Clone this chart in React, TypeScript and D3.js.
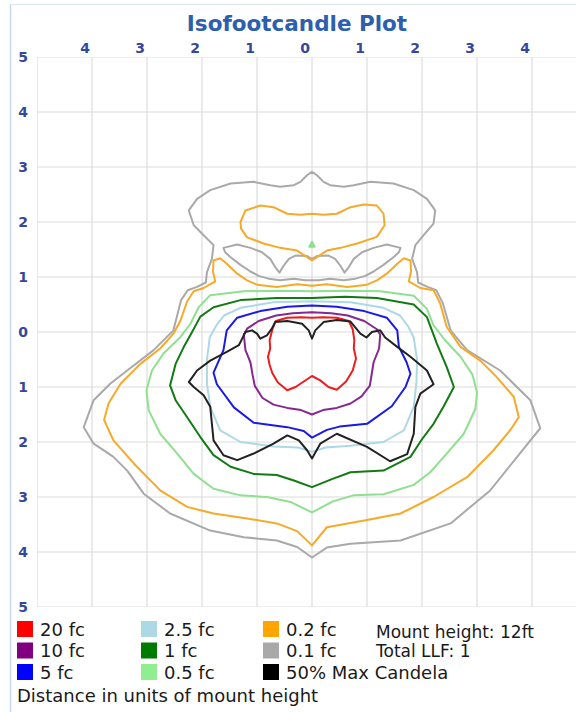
import React from "react";
import * as d3 from "d3";

type Pt = [number, number];

// axes, in units of mount height
const xTicks = [-4, -3, -2, -1, 0, 1, 2, 3, 4];
const yTicks = [5, 4, 3, 2, 1, 0, -1, -2, -3, -4, -5];
const gridValues = [-5, -4, -3, -2, -1, 0, 1, 2, 3, 4, 5];

// isofootcandle contours, [x, y] (y up = positive)
const fc20: Pt[] = [[0,0.26],[0.2,0.27],[0.45,0.26],[0.67,0.2],[0.74,0.05],[0.77,-0.15],[0.76,-0.3],[0.8,-0.48],[0.74,-0.7],[0.62,-0.9],[0.45,-1.05],[0.3,-1.0],[0.15,-0.88],[0,-0.8],[-0.15,-0.9],[-0.3,-1.0],[-0.45,-1.06],[-0.62,-0.92],[-0.72,-0.75],[-0.77,-0.6],[-0.8,-0.45],[-0.76,-0.3],[-0.77,-0.15],[-0.72,0.05],[-0.66,0.2],[-0.45,0.26],[-0.2,0.27]];
const fc10: Pt[] = [[0,0.36],[0.35,0.34],[0.65,0.3],[0.95,0.2],[1.18,0.05],[1.24,-0.05],[1.22,-0.3],[1.12,-0.55],[1.08,-0.8],[1.05,-0.98],[0.9,-1.17],[0.7,-1.3],[0.45,-1.38],[0.2,-1.42],[0,-1.5],[-0.2,-1.42],[-0.45,-1.38],[-0.7,-1.32],[-0.9,-1.2],[-1.04,-0.98],[-1.08,-0.78],[-1.12,-0.55],[-1.21,-0.33],[-1.24,-0.05],[-1.18,0.06],[-0.97,0.2],[-0.65,0.3],[-0.35,0.34]];
const fc5: Pt[] = [[0,0.48],[0.45,0.46],[0.95,0.38],[1.36,0.26],[1.55,0.03],[1.58,-0.27],[1.72,-0.55],[1.79,-0.76],[1.7,-1.0],[1.45,-1.35],[1.0,-1.67],[0.5,-1.72],[0.27,-1.78],[0,-1.92],[-0.15,-1.8],[-0.45,-1.73],[-1.06,-1.65],[-1.42,-1.37],[-1.73,-0.95],[-1.79,-0.74],[-1.61,-0.33],[-1.55,0.03],[-1.36,0.26],[-0.94,0.38],[-0.45,0.46]];
const fc2_5: Pt[] = [[0,0.56],[0.7,0.54],[1.3,0.44],[1.6,0.3],[1.75,0.1],[1.85,-0.1],[1.91,-0.5],[1.9,-0.9],[1.85,-1.36],[1.67,-1.79],[1.3,-2.0],[0.7,-2.07],[0.25,-2.1],[0,-2.18],[-0.25,-2.1],[-0.7,-2.08],[-1.3,-2.0],[-1.67,-1.79],[-1.85,-1.36],[-1.91,-0.94],[-1.91,-0.5],[-1.86,-0.1],[-1.74,0.12],[-1.6,0.3],[-1.3,0.44],[-0.7,0.54]];
const fc1: Pt[] = [[0,0.62],[0.6,0.64],[1.18,0.62],[1.85,0.5],[2.09,0.27],[2.27,-0.21],[2.45,-0.64],[2.58,-1.0],[2.39,-1.36],[2.21,-1.67],[2.0,-1.95],[1.79,-2.27],[1.3,-2.52],[0.7,-2.55],[0.35,-2.68],[0,-2.82],[-0.33,-2.7],[-0.64,-2.6],[-1.06,-2.58],[-1.48,-2.45],[-1.79,-2.24],[-2.03,-1.91],[-2.27,-1.55],[-2.48,-1.24],[-2.58,-0.97],[-2.48,-0.58],[-2.33,-0.27],[-2.18,0.0],[-2.03,0.28],[-1.79,0.45],[-1.3,0.58],[-0.64,0.62]];
const fc0_5: Pt[] = [[0,0.74],[0.6,0.75],[1.24,0.74],[1.85,0.66],[2.09,0.42],[2.21,0.12],[2.42,-0.15],[2.7,-0.45],[2.92,-0.78],[3.0,-1.1],[2.97,-1.4],[2.76,-1.85],[2.45,-2.21],[2.15,-2.55],[1.85,-2.78],[1.3,-2.95],[0.75,-2.97],[0.38,-3.08],[0,-3.28],[-0.39,-3.09],[-0.82,-3.0],[-1.3,-2.97],[-1.79,-2.85],[-2.15,-2.58],[-2.45,-2.21],[-2.76,-1.85],[-2.97,-1.42],[-3.01,-1.06],[-2.91,-0.7],[-2.7,-0.39],[-2.39,-0.09],[-2.21,0.15],[-2.06,0.45],[-1.85,0.67],[-1.24,0.74],[-0.6,0.75]];
const fc0_2: Pt[] = [[0,0.84],[0.27,0.87],[0.64,0.82],[1.0,0.86],[1.18,0.94],[1.36,1.06],[1.55,1.24],[1.67,1.34],[1.79,1.3],[1.8,1.1],[1.76,0.92],[1.97,0.8],[2.21,0.76],[2.33,0.52],[2.45,0.09],[2.7,-0.27],[3.06,-0.52],[3.36,-0.82],[3.67,-1.18],[3.76,-1.55],[3.6,-1.79],[3.3,-2.15],[2.82,-2.64],[2.21,-3.0],[1.61,-3.3],[1.0,-3.42],[0.27,-3.55],[0,-3.88],[-0.27,-3.62],[-0.64,-3.48],[-1.18,-3.39],[-1.79,-3.3],[-2.27,-3.18],[-2.76,-2.88],[-3.24,-2.39],[-3.61,-1.97],[-3.78,-1.6],[-3.7,-1.3],[-3.48,-0.94],[-3.12,-0.58],[-2.76,-0.3],[-2.52,-0.03],[-2.39,0.21],[-2.27,0.56],[-2.15,0.74],[-1.97,0.8],[-1.76,0.92],[-1.8,1.1],[-1.79,1.3],[-1.67,1.34],[-1.55,1.24],[-1.36,1.06],[-1.18,0.94],[-1.0,0.86],[-0.64,0.82],[-0.27,0.87]];
const fc0_2Upper: Pt[] = [[0,2.15],[0.21,2.13],[0.45,2.15],[0.7,2.27],[0.94,2.32],[1.18,2.3],[1.3,2.15],[1.32,1.94],[1.18,1.73],[0.82,1.61],[0.52,1.53],[0.27,1.48],[0.09,1.36],[0,1.3],[-0.09,1.36],[-0.27,1.48],[-0.58,1.53],[-0.88,1.61],[-1.18,1.72],[-1.29,1.88],[-1.3,2.0],[-1.21,2.21],[-0.94,2.3],[-0.7,2.27],[-0.45,2.15],[-0.21,2.13]];
const fc0_1: Pt[] = [[0,2.91],[0.09,2.85],[0.21,2.73],[0.33,2.67],[0.58,2.64],[0.76,2.67],[1.06,2.73],[1.48,2.7],[1.85,2.58],[2.09,2.42],[2.24,2.21],[2.21,1.97],[2.03,1.76],[1.88,1.58],[1.82,1.33],[1.91,1.09],[1.93,0.9],[2.1,0.82],[2.26,0.76],[2.38,0.52],[2.52,0.03],[2.82,-0.33],[3.42,-0.7],[3.97,-1.24],[4.15,-1.75],[3.73,-2.27],[3.24,-2.88],[2.52,-3.48],[1.61,-3.79],[0.7,-3.85],[0.27,-3.92],[0,-4.1],[-0.27,-3.91],[-0.64,-3.79],[-1.24,-3.73],[-1.85,-3.61],[-2.58,-3.3],[-3.06,-2.94],[-3.36,-2.52],[-3.61,-2.27],[-3.97,-2.03],[-4.15,-1.73],[-3.97,-1.24],[-3.67,-0.94],[-3.36,-0.7],[-2.88,-0.33],[-2.52,0.03],[-2.38,0.58],[-2.26,0.76],[-2.09,0.82],[-1.93,0.9],[-1.91,1.09],[-1.82,1.33],[-1.79,1.58],[-1.97,1.76],[-2.15,1.94],[-2.24,2.21],[-2.09,2.42],[-1.85,2.58],[-1.48,2.7],[-1.06,2.73],[-0.76,2.67],[-0.58,2.64],[-0.33,2.67],[-0.21,2.73],[-0.09,2.85]];
const fc0_1Hole: Pt[] = [[-1.61,1.53],[-1.36,1.59],[-1.12,1.53],[-0.91,1.45],[-0.76,1.33],[-0.67,1.18],[-0.59,1.08],[-0.52,1.2],[-0.42,1.33],[-0.3,1.39],[-0.09,1.38],[0,1.33],[0.09,1.38],[0.3,1.39],[0.42,1.33],[0.52,1.2],[0.59,1.08],[0.67,1.18],[0.76,1.33],[0.91,1.45],[1.12,1.53],[1.36,1.59],[1.61,1.53],[1.58,1.45],[1.48,1.36],[1.3,1.22],[1.12,1.1],[0.97,1.02],[0.79,0.97],[0.58,0.94],[0.33,0.97],[0.12,0.94],[0,0.94],[-0.12,0.94],[-0.33,0.97],[-0.58,0.94],[-0.79,0.97],[-0.97,1.02],[-1.12,1.1],[-1.3,1.22],[-1.48,1.36],[-1.58,1.45]];
const fc0_5Spot: Pt[] = [[-0.05,1.55],[0,1.64],[0.05,1.55]];
const maxCandela50: Pt[] = [[0,-0.12],[0.06,0.03],[0.21,0.18],[0.45,0.22],[0.7,0.19],[0.79,0.08],[0.88,-0.03],[0.99,-0.1],[1.09,0.0],[1.24,0.03],[1.33,-0.1],[1.55,-0.27],[1.79,-0.45],[2.09,-0.7],[2.21,-0.95],[1.97,-1.12],[1.88,-1.36],[1.85,-1.85],[1.73,-2.22],[1.42,-2.35],[1.0,-2.09],[0.45,-1.85],[0.15,-2.03],[0,-2.3],[-0.09,-2.15],[-0.24,-1.97],[-0.45,-1.88],[-0.7,-2.03],[-1.06,-2.21],[-1.36,-2.33],[-1.61,-2.24],[-1.79,-1.97],[-1.82,-1.67],[-1.85,-1.36],[-1.97,-1.15],[-2.15,-1.0],[-2.24,-0.91],[-2.09,-0.7],[-1.85,-0.52],[-1.55,-0.36],[-1.33,-0.24],[-1.27,-0.12],[-1.21,0.0],[-1.09,0.03],[-1.0,-0.03],[-0.94,-0.12],[-0.82,-0.06],[-0.73,0.06],[-0.67,0.18],[-0.45,0.2],[-0.18,0.15],[-0.06,0.03]];

// legend
const legendLabels = ["20 fc", "10 fc", "5 fc", "2.5 fc", "1 fc", "0.5 fc", "0.2 fc", "0.1 fc", "50% Max Candela"];
const legendColors = ["#ff0000", "#800080", "#0000ff", "#add8e6", "#007a00", "#90ee90", "#ffa500", "#a9a9a9", "#000000"];
const infoLines = ["Mount height: 12ft", "Total LLF: 1"];

// drawing order, back to front
const contours: { color: string; rings: Pt[][]; fill?: boolean }[] = [
  { color: "#a9a9a9", rings: [fc0_1, fc0_1Hole] },
  { color: "#f7a928", rings: [fc0_2, fc0_2Upper] },
  { color: "#8fe08f", rings: [fc0_5] },
  { color: "#8fe08f", rings: [fc0_5Spot], fill: true },
  { color: "#127a12", rings: [fc1] },
  { color: "#add8e6", rings: [fc2_5] },
  { color: "#1a1ae6", rings: [fc5] },
  { color: "#86288f", rings: [fc10] },
  { color: "#ee1c1c", rings: [fc20] },
  { color: "#222222", rings: [maxCandela50] },
];

const W = 576;
const H = 712;
const FONT = "'DejaVu Sans', Verdana, sans-serif";
const labelColor = "#34479b";

export default function App() {
  const x = d3.scaleLinear().domain([-5, 5]).range([37, 587]);
  const y = d3.scaleLinear().domain([5, -5]).range([57, 607]);
  const line = d3
    .line<Pt>()
    .x((d) => x(d[0]))
    .y((d) => y(d[1]))
    .curve(d3.curveLinearClosed);

  const legendX = [17, 141, 263];
  const legendY = [629, 650.5, 672];

  return (
    <svg
      width={W}
      height={H}
      style={{ position: "absolute", left: 0, top: 0, background: "#fff" }}
      fontFamily={FONT}
    >
      <defs>
        <clipPath id="plot">
          <rect x={x(-5)} y={y(5)} width={W - x(-5)} height={y(-5) - y(5)} />
        </clipPath>
      </defs>
      <rect x={0} y={0} width={W} height={H} fill="#fff" />
      <line x1={10.5} x2={10.5} y1={4} y2={H} stroke="#c9d8ee" strokeWidth={1.5} />
      <line x1={10} x2={W} y1={4.5} y2={4.5} stroke="#dde7f3" strokeWidth={1} />

      <text x={297} y={31} textAnchor="middle" fontSize={21.5} fontWeight="bold" fill="#2c5fad">
        Isofootcandle Plot
      </text>

      <g clipPath="url(#plot)">
        {gridValues.map((v) => (
          <line key={"v" + v} x1={x(v)} x2={x(v)} y1={y(5)} y2={y(-5)} stroke="#dcdcdc" strokeWidth={1.2} />
        ))}
        {gridValues.map((v) => (
          <line key={"h" + v} x1={x(-5)} x2={W} y1={y(v)} y2={y(v)} stroke="#dcdcdc" strokeWidth={1.2} />
        ))}
        {contours.map((c, i) =>
          c.rings.map((r, j) => (
            <path
              key={i + "-" + j}
              d={line(r) ?? ""}
              fill={c.fill ? c.color : "none"}
              stroke={c.color}
              strokeWidth={2}
              strokeLinejoin="round"
            />
          ))
        )}
      </g>

      {xTicks.map((t) => (
        <text key={"xt" + t} x={x(t) - 7} y={53} textAnchor="middle" fontSize={14} fontWeight="bold" fill={labelColor}>
          {Math.abs(t)}
        </text>
      ))}
      {yTicks.map((t) => (
        <text key={"yt" + t} x={23} y={y(t) + 5} textAnchor="middle" fontSize={14} fontWeight="bold" fill={labelColor}>
          {Math.abs(t)}
        </text>
      ))}

      {legendLabels.map((label, i) => {
        const col = Math.floor(i / 3);
        const row = i % 3;
        return (
          <g key={label} transform={`translate(${legendX[col]},${legendY[row]})`}>
            <rect x={0} y={-8} width={16} height={16} fill={legendColors[i]} />
            <text x={23} y={6.5} fontSize={18} fill="#1a1a1a">
              {label}
            </text>
          </g>
        );
      })}
      {infoLines.map((t, i) => (
        <text key={t} x={376} y={638 + i * 19} fontSize={17} fill="#1a1a1a">
          {t}
        </text>
      ))}
      <text x={17} y={702} fontSize={18} fill="#1a1a1a">
        Distance in units of mount height
      </text>
    </svg>
  );
}
